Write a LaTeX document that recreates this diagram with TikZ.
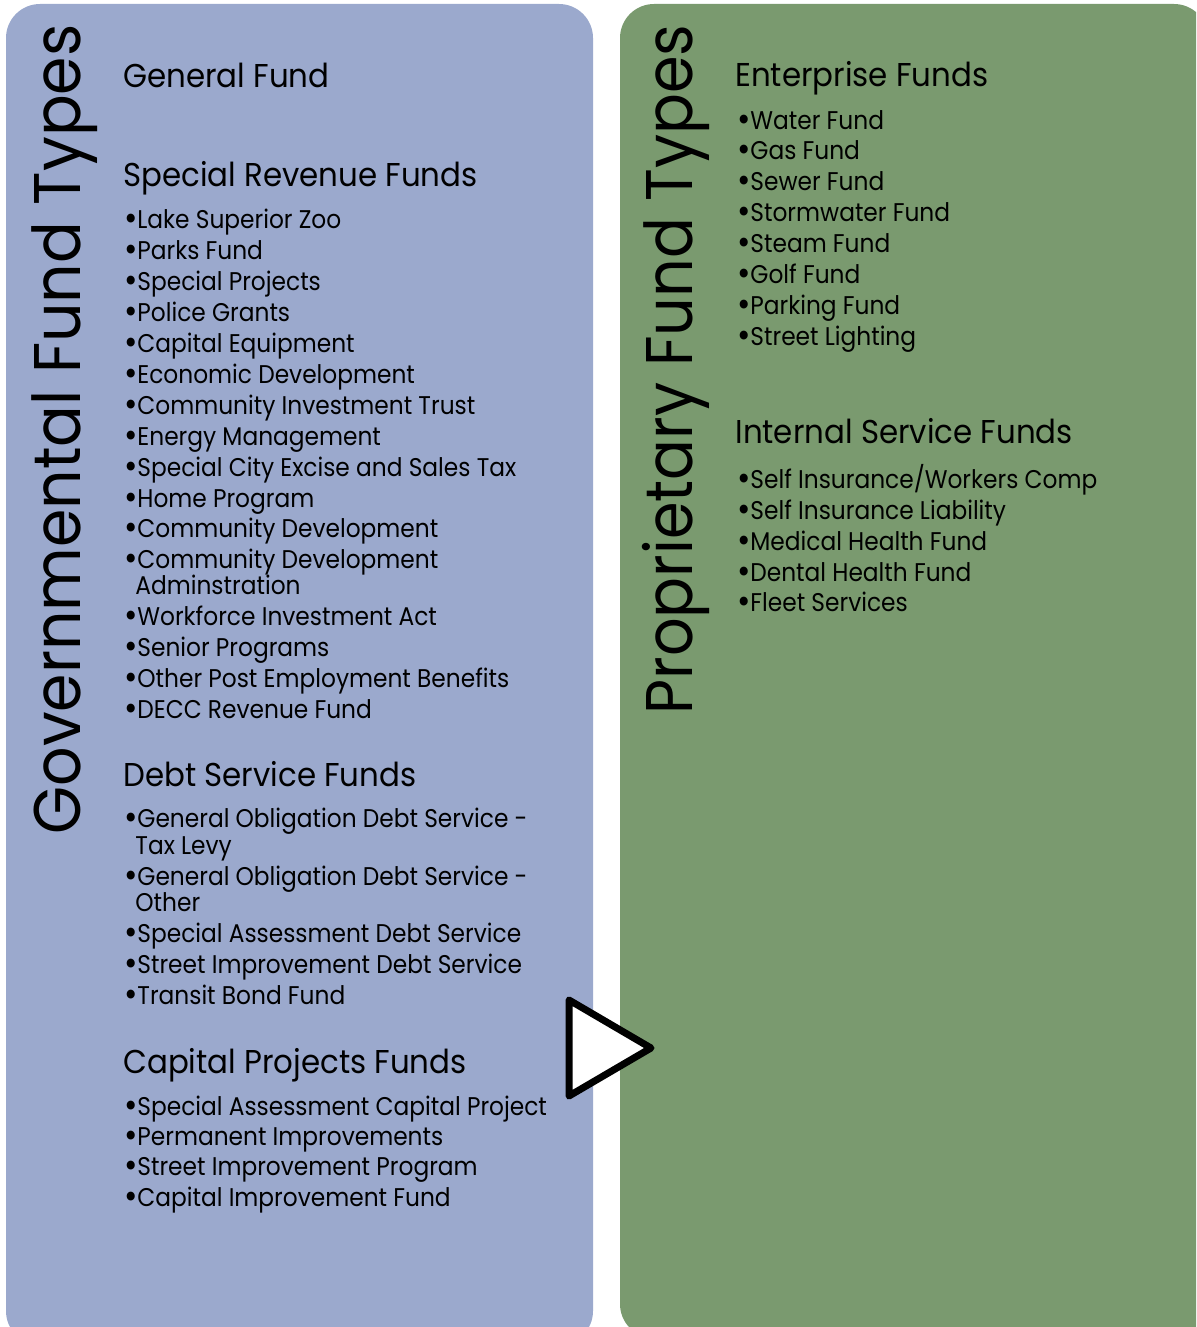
\documentclass[tikz,border=0pt]{standalone}
\usepackage{fontspec}
\setmainfont{Poppins}
\newfontfamily\itemfont{Poppins}[FakeStretch=0.91]
\newfontfamily\headfont{Poppins}[FakeStretch=0.935]
\definecolor{panelblue}{HTML}{9BA9CD}
\definecolor{panelgreen}{HTML}{7A9A6F}
\tikzset{
  panel/.style={rounded corners=17pt},
  vtitle/.style={rotate=90, anchor=base west, inner sep=0pt, font=\fontsize{33}{33}\selectfont},
  head/.style={anchor=base west, inner sep=0pt, font=\headfont\fontsize{16.5}{16.5}\selectfont},
  item/.style={anchor=base west, inner sep=0pt, text height=9.5pt, text depth=2.5pt,
    font=\itemfont\fontsize{12.8}{12.8}\selectfont},
  arrowtri/.style={draw=black, fill=white, line width=3.5pt, line join=round},
}
\newcommand{\bul}{\makebox[6.5pt][l]{\raisebox{-0.2ex}[0pt][0pt]{\scalebox{1.4}{\textbullet}}}}
\begin{document}
\begin{tikzpicture}[x=0.5pt,y=-0.5pt]
\useasboundingbox (0,0) rectangle (1196,1327);
\clip (0,0) rectangle (1196,1327);
\fill[panelblue, panel] (6,4) rectangle (593,1345);
\fill[panelgreen, panel] (620,4) rectangle (1208,1338);

% vertical titles
\node[vtitle] (gtitle) at (80,835) {\resizebox{405pt}{\height}{Governmental Fund Types}};
\node[vtitle] (ptitle) at (692,715) {\resizebox{345pt}{\height}{Proprietary Fund Types}};

% left column
\node[head] (gf) at (123,88) {General Fund};
\node[head] (srf) at (123,186) {Special Revenue Funds};
\foreach \t/\y [count=\i] in {
  {Lake Superior Zoo}/228, {Parks Fund}/259, {Special Projects}/290,
  {Police Grants}/321, {Capital Equipment}/352, {Economic Development}/383,
  {Community Investment Trust}/414, {Energy Management}/445,
  {Special City Excise and Sales Tax}/476, {Home Program}/507,
  {Community Development}/537, {Community Development}/568,
  {Workforce Investment Act}/625, {Senior Programs}/656,
  {Other Post Employment Benefits}/687, {DECC Revenue Fund}/718}
  { \node[item] (sr\i) at (124,\y) {\bul\t}; }
\node[item] (sr12b) at (135,594) {Adminstration};

\node[head] (dsf) at (123,786) {Debt Service Funds};
\foreach \t/\y [count=\i] in {
  {General Obligation Debt Service -}/827, {General Obligation Debt Service -}/885,
  {Special Assessment Debt Service}/942, {Street Improvement Debt Service}/973,
  {Transit Bond Fund}/1004}
  { \node[item] (ds\i) at (124,\y) {\bul\t}; }
\node[item] (ds1b) at (135,854) {Tax Levy};
\node[item] (ds2b) at (135,911) {Other};

\node[head] (cpf) at (123,1073) {Capital Projects Funds};
\foreach \t/\y [count=\i] in {
  {Special Assessment Capital Project}/1115, {Permanent Improvements}/1145,
  {Street Improvement Program}/1175, {Capital Improvement Fund}/1206}
  { \node[item] (cp\i) at (124,\y) {\bul\t}; }

% right column
\node[head] (ef) at (735,87) {Enterprise Funds};
\foreach \t/\y [count=\i] in {
  {Water Fund}/129, {Gas Fund}/159, {Sewer Fund}/190, {Stormwater Fund}/221,
  {Steam Fund}/252, {Golf Fund}/283, {Parking Fund}/314, {Street Lighting}/345}
  { \node[item] (ef\i) at (737,\y) {\bul\t}; }

\node[head] (isf) at (735,443) {Internal Service Funds};
\foreach \t/\y [count=\i] in {
  {Self Insurance/Workers Comp}/488, {Self Insurance Liability}/519,
  {Medical Health Fund}/550, {Dental Health Fund}/581, {Fleet Services}/611}
  { \node[item] (is\i) at (737,\y) {\bul\t}; }

% arrow
\draw[arrowtri] (569,1000) coordinate (t1) -- (651,1048) coordinate (t2) -- (569,1096) coordinate (t3) -- cycle;
\end{tikzpicture}
\end{document}
